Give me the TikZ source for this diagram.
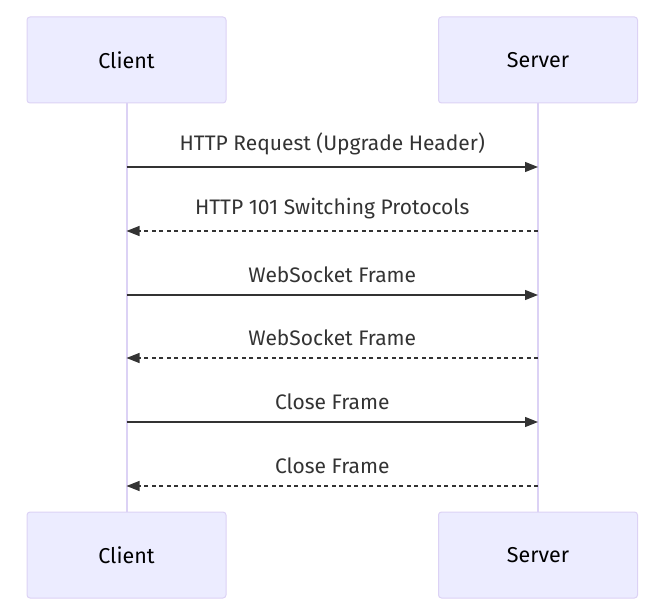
\documentclass[tikz,border=0pt]{standalone}
\usepackage{fontspec}
\setmainfont{Fira Sans}
\usetikzlibrary{positioning,arrows.meta}
\definecolor{actorfill}{HTML}{ECECFF}
\definecolor{actorline}{HTML}{DCD2F5}
\definecolor{msgcol}{HTML}{333333}

\begin{document}
\begin{tikzpicture}[x=1pt,y=-1pt,
    actor/.style={draw=actorline, fill=actorfill, rounded corners=3pt, line width=1pt,
        minimum width=199pt, minimum height=86pt, font=\fontsize{21.5}{25}\selectfont},
    lifeline/.style={actorline, line width=2pt},
    msg/.style={msgcol, line width=1.3pt, -{Triangle[length=13pt,width=10pt]}},
    reply/.style={msg, dash pattern=on 4pt off 3.5pt},
    lbl/.style={text=msgcol, font=\fontsize{21}{25}\selectfont}]
    \useasboundingbox (0,0) rectangle (658,615);

    % actors
    \node[actor] (clientTop) at (126.5,60) {Client};
    \node[actor] (serverTop) at (538,60) {Server};
    \node[actor] (clientBot) at (126.5,555) {Client};
    \node[actor] (serverBot) at (538,555) {Server};
    \draw[lifeline] (clientTop) -- (clientBot);
    \draw[lifeline] (serverTop) -- (serverBot);

    % messages
    \foreach \y/\name in {167/a, 231/b, 295/c, 358/d, 422/e, 486/f} {
        \coordinate (c\name) at (126.5,\y);
        \coordinate (s\name) at (538,\y);
    }
    \draw[msg] (ca) -- node[lbl, above=8pt] {HTTP Request (Upgrade Header)} (sa);
    \draw[reply] (sb) -- node[lbl, above=8pt] {HTTP 101 Switching Protocols} (cb);
    \draw[msg] (cc) -- node[lbl, above=8pt] {WebSocket Frame} (sc);
    \draw[reply] (sd) -- node[lbl, above=8pt] {WebSocket Frame} (cd);
    \draw[msg] (ce) -- node[lbl, above=8pt] {Close Frame} (se);
    \draw[reply] (sf) -- node[lbl, above=8pt] {Close Frame} (cf);
\end{tikzpicture}
\end{document}
